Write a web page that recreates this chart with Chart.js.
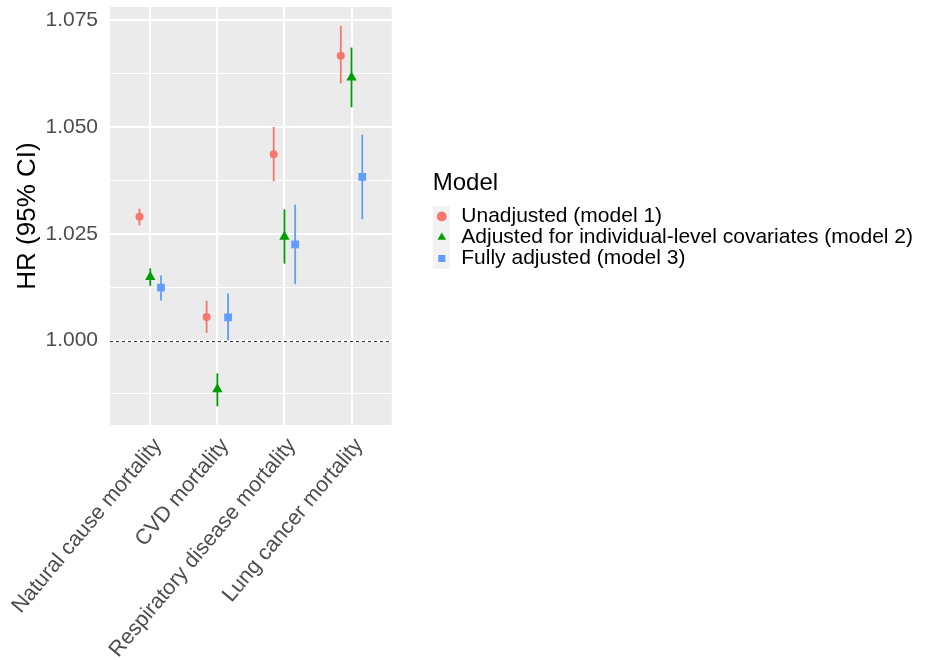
<!DOCTYPE html>
<html>
<head>
<meta charset="utf-8">
<script src="https://cdn.jsdelivr.net/npm/chart.js@4.4.1/dist/chart.umd.min.js"></script>
<style>
  body { margin: 0; background: #fff; }
  #wrap { width: 928px; height: 660px; }
</style>
</head>
<body>
<div id="wrap"><canvas id="hrChart" width="928" height="660"></canvas></div>
<script>
// Data
var outcomes = ["Natural cause mortality", "CVD mortality", "Respiratory disease mortality", "Lung cancer mortality"];
var modelNames = ["Unadjusted (model 1)", "Adjusted for individual-level covariates (model 2)", "Fully adjusted (model 3)"];

var hrModel1 = [1.0290, 1.0055, 1.0436, 1.0667];
var loModel1 = [1.0270, 1.0018, 1.0373, 1.0602];
var hiModel1 = [1.0309, 1.0093, 1.0500, 1.0737];

var hrModel2 = [1.0149, 0.9886, 1.0243, 1.0616];
var loModel2 = [1.0128, 0.9846, 1.0180, 1.0546];
var hiModel2 = [1.0169, 0.9923, 1.0307, 1.0686];

var hrModel3 = [1.0124, 1.0054, 1.0225, 1.0383];
var loModel3 = [1.0094, 1.0000, 1.0132, 1.0284];
var hiModel3 = [1.0152, 1.0110, 1.0318, 1.0482];

var yMajor = [1.000, 1.025, 1.050, 1.075];
var yMinor = [0.9875, 1.0125, 1.0375, 1.0625];
var refLine = 1.0;

var dodge = [-0.16, 0, 0.16];
var colors = ["#F8766D", "#009E00", "#619CFF"];
var fontFam = "'Liberation Sans', Arial, sans-serif";

function makePoints(values, lo, hi, k) {
    return values.map(function (v, i) {
        return { x: i + 1 + dodge[k], y: v, lo: lo[i], hi: hi[i] };
    });
}

// Grey panel background + light legend key background
var panelBg = {
    id: 'panelBg',
    beforeDraw: function (chart) {
        var a = chart.chartArea;
        var c = chart.ctx;
        c.save();
        c.fillStyle = '#EBEBEB';
        c.fillRect(a.left, a.top, a.right - a.left, a.bottom - a.top);
        var boxes = chart.legend && chart.legend.legendHitBoxes;
        if (boxes && boxes.length) {
            var first = boxes[0], last = boxes[boxes.length - 1];
            c.fillStyle = '#F2F2F2';
            c.fillRect(first.left, first.top, 17, last.top + last.height - first.top);
        }
        c.restore();
    }
};

// Reference line at HR = 1 and the 95% CI segments
var ciBars = {
    id: 'ciBars',
    beforeDatasetsDraw: function (chart) {
        var ctx = chart.ctx;
        var xs = chart.scales.x, ys = chart.scales.y;
        var a = chart.chartArea;
        ctx.save();
        ctx.strokeStyle = '#333333';
        ctx.lineWidth = 1;
        ctx.setLineDash([3, 3]);
        var yr = Math.round(ys.getPixelForValue(refLine)) + 0.5;
        ctx.beginPath();
        ctx.moveTo(a.left, yr);
        ctx.lineTo(a.right, yr);
        ctx.stroke();
        ctx.setLineDash([]);
        chart.data.datasets.forEach(function (ds) {
            ctx.strokeStyle = ds.borderColor;
            ctx.lineWidth = 1.8;
            ds.data.forEach(function (p) {
                var px = xs.getPixelForValue(p.x);
                ctx.beginPath();
                ctx.moveTo(px, ys.getPixelForValue(p.lo));
                ctx.lineTo(px, ys.getPixelForValue(p.hi));
                ctx.stroke();
            });
        });
        ctx.restore();
    }
};

var ctx = document.getElementById("hrChart");
var myChart = new Chart(ctx, {
    type: 'scatter',
    data: {
        datasets: [{
            label: modelNames[0],
            data: makePoints(hrModel1, loModel1, hiModel1, 0),
            pointStyle: 'circle',
            pointRadius: 4,
            backgroundColor: colors[0],
            borderColor: colors[0],
            borderWidth: 0
        }, {
            label: modelNames[1],
            data: makePoints(hrModel2, loModel2, hiModel2, 1),
            pointStyle: 'triangle',
            pointRadius: 6,
            backgroundColor: colors[1],
            borderColor: colors[1],
            borderWidth: 0
        }, {
            label: modelNames[2],
            data: makePoints(hrModel3, loModel3, hiModel3, 2),
            pointStyle: 'rect',
            pointRadius: 5.5,
            backgroundColor: colors[2],
            borderColor: colors[2],
            borderWidth: 0
        }]
    },
    options: {
        responsive: false,
        animation: false,
        devicePixelRatio: 1,
        layout: { padding: { top: 7, right: 5, bottom: 0, left: 0 } },
        scales: {
            x: {
                type: 'linear',
                min: 0.4,
                max: 4.6,
                afterBuildTicks: function (s) {
                    s.ticks = outcomes.map(function (o, i) { return { value: i + 1 }; });
                },
                afterFit: function (s) {
                    s.height = 235;
                    s.paddingLeft = 0;
                    s.paddingRight = 0;
                },
                grid: { color: '#FFFFFF', lineWidth: 2, drawTicks: false },
                border: { display: false },
                ticks: {
                    autoSkip: false,
                    maxRotation: 50,
                    minRotation: 50,
                    padding: 8.5,
                    labelOffset: 7.5,
                    color: '#4D4D4D',
                    font: { family: fontFam, size: 21.5 },
                    callback: function (value) { return outcomes[value - 1]; }
                }
            },
            y: {
                min: 0.98022,
                max: 1.0781,
                afterBuildTicks: function (s) {
                    s.ticks = yMinor.concat(yMajor).sort().map(function (v) { return { value: v }; });
                },
                afterFit: function (s) {
                    s.width = 110;
                    s.paddingTop = 0;
                    s.paddingBottom = 0;
                },
                grid: {
                    color: '#FFFFFF',
                    drawTicks: false,
                    lineWidth: function (c) { return yMinor.indexOf(c.tick.value) >= 0 ? 1 : 2; }
                },
                border: { display: false },
                title: {
                    display: true,
                    text: 'HR (95% CI)',
                    color: '#000000',
                    font: { family: fontFam, size: 26 },
                    padding: { top: 12, bottom: 0 }
                },
                ticks: {
                    autoSkip: false,
                    padding: 12,
                    color: '#4D4D4D',
                    font: { family: fontFam, size: 21 },
                    callback: function (value) {
                        return yMajor.indexOf(value) >= 0 ? value.toFixed(3) : '';
                    }
                }
            },
            gap: {
                type: 'linear',
                position: 'right',
                display: true,
                grid: { display: false },
                border: { display: false },
                ticks: { display: false },
                afterFit: function (s) {
                    s.width = 41;
                    s.paddingTop = 0;
                    s.paddingBottom = 0;
                }
            }
        },
        plugins: {
            legend: {
                position: 'right',
                align: 'center',
                fullSize: false,
                maxWidth: 600,
                title: {
                    display: true,
                    text: 'Model',
                    position: 'start',
                    color: '#000000',
                    font: { family: fontFam, size: 24 },
                    padding: { top: 8, bottom: 6 }
                },
                labels: {
                    usePointStyle: true,
                    boxWidth: 18,
                    boxHeight: 7,
                    padding: 0,
                    color: '#000000',
                    font: { family: fontFam, size: 21 }
                }
            },
            tooltip: { enabled: false }
        }
    },
    plugins: [panelBg, ciBars]
});
</script>
</body>
</html>
